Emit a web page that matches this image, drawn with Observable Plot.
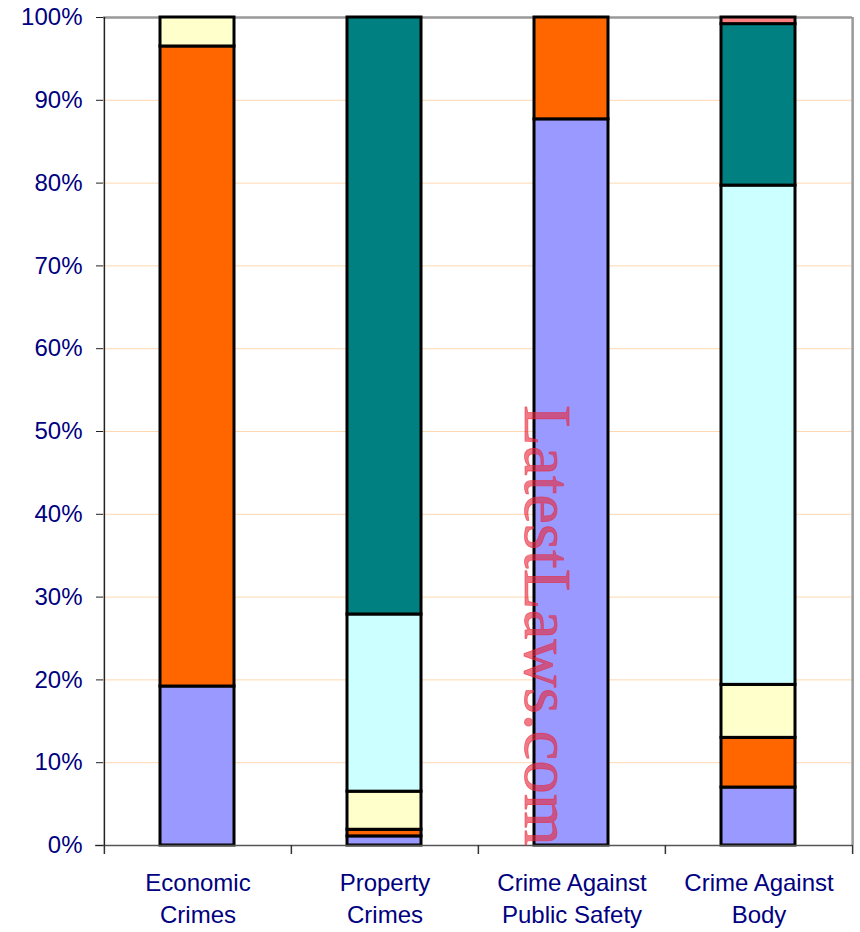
<!DOCTYPE html>
<html>
<head>
<meta charset="utf-8">
<script src="https://cdn.jsdelivr.net/npm/d3@7"></script>
<script src="https://cdn.jsdelivr.net/npm/@observablehq/plot@0.6"></script>
<style>
  html, body { margin: 0; padding: 0; background: #fff; }
  #chart svg { display: block; }
</style>
</head>
<body>
<div id="chart"></div>
<script>
const categories = ["Economic Crimes", "Property Crimes", "Crime Against Public Safety", "Crime Against Body"];
const xTickLabels = ["Economic\nCrimes", "Property\nCrimes", "Crime Against\nPublic Safety", "Crime Against\nBody"];
const seriesNames = ["Segment 1", "Segment 2", "Segment 3", "Segment 4", "Segment 5", "Segment 6"];
const seriesColors = ["#9999ff", "#ff6600", "#ffffcc", "#ccffff", "#008080", "#ff8080"];
const segment1 = [19.2, 1.1, 87.7, 7.0];
const segment2 = [77.3, 0.8, 12.3, 6.0];
const segment3 = [3.5, 4.6, 0, 6.4];
const segment4 = [0, 21.4, 0, 60.3];
const segment5 = [0, 72.1, 0, 19.5];
const segment6 = [0, 0, 0, 0.8];
const yTicks = [0, 10, 20, 30, 40, 50, 60, 70, 80, 90, 100];
const gridValues = [10, 20, 30, 40, 50, 60, 70, 80, 90];
const watermarkText = "LatestLaws.com";

const seriesValues = [segment1, segment2, segment3, segment4, segment5, segment6];
const data = [];
seriesNames.forEach((s, si) => {
  categories.forEach((c, ci) => {
    const v = seriesValues[si][ci];
    if (v > 0) data.push({category: c, series: s, value: v});
  });
});

const W = 860, H = 932;
const mL = 103, mR = 8, mT = 17, mB = 87;
const bw = (W - mL - mR) / categories.length;
const labelOf = new Map(categories.map((c, i) => [c, xTickLabels[i]]));

const chart = Plot.plot({
  width: W,
  height: H,
  marginLeft: mL,
  marginRight: mR,
  marginTop: mT,
  marginBottom: mB,
  style: {fontFamily: "'Liberation Sans', Arial, sans-serif", background: "#fff"},
  x: {domain: categories, padding: 0, axis: null, label: null},
  y: {domain: [0, 100], axis: null, label: null},
  color: {domain: seriesNames, range: seriesColors},
  marks: [
    Plot.ruleY(gridValues, {stroke: "#ffd8b0", strokeWidth: 1}),
    Plot.ruleY([100], {stroke: "#999", strokeWidth: 2.5}),
    Plot.ruleX([categories[categories.length - 1]], {dx: bw / 2, stroke: "#999", strokeWidth: 2.5}),
    Plot.barY(data, {
      x: "category", y: "value", fill: "series",
      stroke: "#000", strokeWidth: 3,
      insetLeft: 56, insetRight: 57
    }),
    Plot.ruleY([0], {stroke: "#555", strokeWidth: 1.5, insetLeft: -8}),
    Plot.ruleX(categories, {dx: -bw / 2, y1: 0, y2: 0, insetBottom: -9, stroke: "#333", strokeWidth: 1.5}),
    Plot.ruleX([categories[categories.length - 1]], {dx: bw / 2, y1: 0, y2: 0, insetBottom: -9, stroke: "#333", strokeWidth: 1.5}),
    Plot.ruleX([categories[0]], {dx: -bw / 2, stroke: "#222", strokeWidth: 1.5}),
    Plot.axisY({
      ticks: yTicks, tickSize: 7, tickPadding: 14, label: null,
      tickFormat: d => d + "%",
      stroke: "#222", fill: "#000080", fontSize: 24
    }),
    Plot.axisX({
      tickSize: 0, tickPadding: 23, label: null,
      tickFormat: d => labelOf.get(d),
      fill: "#000080", fontSize: 24, lineHeight: 1.33
    }),
    Plot.text([watermarkText], {
      x: () => categories[2], y: () => 53.2,
      text: d => d, rotate: 90, textAnchor: "start", lineAnchor: "middle",
      dx: -26, fontSize: 67, fontFamily: "'Liberation Serif', 'Times New Roman', serif",
      fill: "#e8283c", fillOpacity: 0.62, stroke: "#e8283c", strokeOpacity: 0.62, strokeWidth: 0.8
    })
  ]
});

document.getElementById("chart").appendChild(chart);
</script>
</body>
</html>
